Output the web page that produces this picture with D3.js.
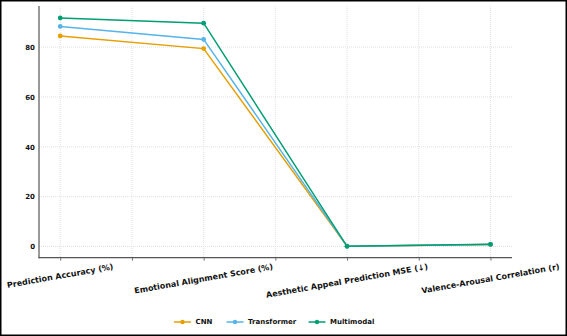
<!DOCTYPE html>
<html><head><meta charset="utf-8">
<script src="https://cdn.jsdelivr.net/npm/d3@7"></script>
<style>
html,body{margin:0;padding:0;background:#fff;}
svg{display:block;font-family:"DejaVu Sans",sans-serif;}
</style></head>
<body>
<svg id="c" width="567" height="336"></svg>
<script>
const categories = ["Prediction Accuracy (%)", "Emotional Alignment Score (%)", "Aesthetic Appeal Prediction MSE (↓)", "Valence-Arousal Correlation (r)"];
const seriesNames = ["CNN", "Transformer", "Multimodal"];
const cnnValues = [84.5, 79.4, 0.12, 0.78];
const transformerValues = [88.3, 83.1, 0.10, 0.82];
const multimodalValues = [91.7, 89.6, 0.08, 0.86];
const yTicks = [0, 20, 40, 60, 80];
const colors = ["#E69F00", "#56B4E9", "#009E73"];

const series = [cnnValues, transformerValues, multimodalValues];
const svg = d3.select("#c");
const W = 567, H = 336;
const L = 39, R = 512, T = 6, B = 257.7;

svg.append("rect").attr("x", 0.75).attr("y", 0.75).attr("width", W - 1.5).attr("height", H - 1.5)
  .attr("fill", "#fff").attr("stroke", "#000").attr("stroke-width", 1.5);

const x = d3.scaleLinear().domain([-0.148, 3.15]).range([L, R]);
const y = d3.scaleLinear().domain([-4.5, 96.5]).range([B, T]);

const xGridVals = d3.range(0, 3.01, 0.5);
const g = svg.append("g");
// grid
g.selectAll(".vg").data(xGridVals).join("line")
  .attr("x1", d => x(d)).attr("x2", d => x(d)).attr("y1", T).attr("y2", B)
  .attr("stroke", "#d9d9d9").attr("stroke-width", 0.8).attr("stroke-dasharray", "1,1");
g.selectAll(".hg").data(yTicks).join("line")
  .attr("x1", L).attr("x2", R).attr("y1", d => y(d)).attr("y2", d => y(d))
  .attr("stroke", "#d9d9d9").attr("stroke-width", 0.8).attr("stroke-dasharray", "1,1");

// axes
const yAxis = d3.axisLeft(y).tickValues(yTicks).tickSize(0).tickPadding(4);
const ya = svg.append("g").attr("transform", `translate(${L},0)`).call(yAxis);
ya.select(".domain").remove();
ya.selectAll("text").attr("font-size", 7).attr("font-weight", "bold").attr("fill", "#111")
  .attr("font-family", "DejaVu Sans");

const xAxis = d3.axisBottom(x).tickValues(xGridVals).tickSize(3).tickFormat("");
const xa = svg.append("g").attr("transform", `translate(0,${B})`).call(xAxis);
xa.select(".domain").remove();
xa.selectAll("line").attr("stroke", "#555").attr("stroke-width", 0.8);

svg.append("line").attr("x1", L).attr("x2", L).attr("y1", T).attr("y2", B + 0.6)
  .attr("stroke", "#555").attr("stroke-width", 1.2);
svg.append("line").attr("x1", L - 0.6).attr("x2", R).attr("y1", B).attr("y2", B)
  .attr("stroke", "#555").attr("stroke-width", 1.2);

// x labels rotated
const ang = -10, rad = Math.abs(ang) * Math.PI / 180;
const fs = 8;
categories.forEach((c, i) => {
  const t = svg.append("text").text(c).attr("font-size", fs).attr("font-weight", "bold")
    .attr("fill", "#111").attr("text-anchor", "middle").attr("dominant-baseline", "central");
  const w = t.node().getComputedTextLength();
  const hh = w * Math.sin(rad) + fs * 1.15 * Math.cos(rad);
  const cy = B + 4.5 + hh / 2;
  t.attr("transform", `translate(${x(i)},${cy}) rotate(${ang})`);
});

// lines
const line = d3.line().x((d, i) => x(i)).y(d => y(d));
series.forEach((s, k) => {
  svg.append("path").datum(s).attr("d", line).attr("fill", "none")
    .attr("stroke", colors[k]).attr("stroke-width", 1.5);
  svg.selectAll(null).data(s).join("circle")
    .attr("cx", (d, i) => x(i)).attr("cy", d => y(d)).attr("r", 2.4).attr("fill", colors[k]);
});

// legend
const legX = [174, 226.5, 308.5];
const ly = 322;
seriesNames.forEach((n, k) => {
  const lg = svg.append("g");
  lg.append("line").attr("x1", legX[k]).attr("x2", legX[k] + 17).attr("y1", ly).attr("y2", ly)
    .attr("stroke", colors[k]).attr("stroke-width", 1.5);
  lg.append("circle").attr("cx", legX[k] + 8.5).attr("cy", ly).attr("r", 2.2).attr("fill", colors[k]);
  lg.append("text").attr("x", legX[k] + 21.5).attr("y", ly).attr("dominant-baseline", "central")
    .attr("font-size", 7).attr("font-weight", "bold").attr("fill", "#111").text(n);
});
</script>
</body></html>
